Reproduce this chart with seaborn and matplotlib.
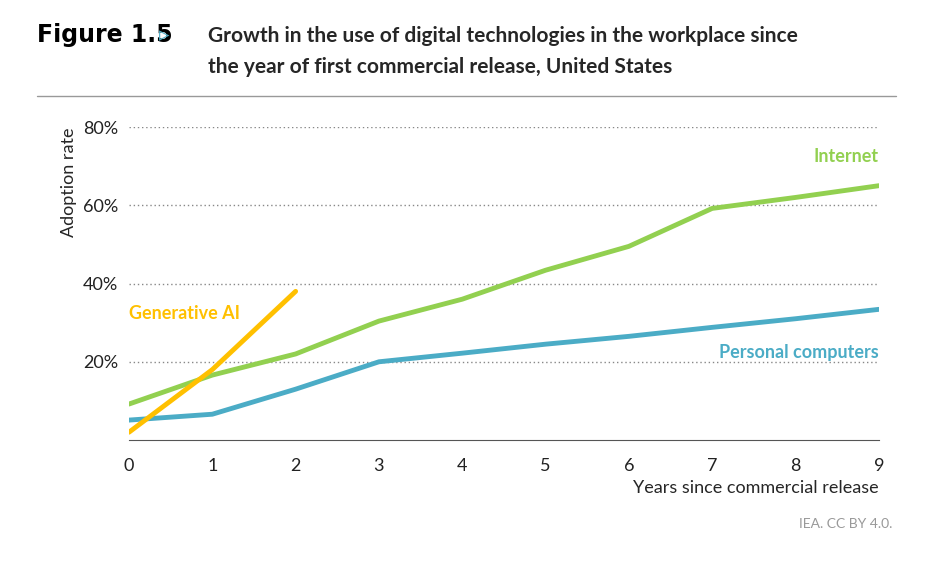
import matplotlib
matplotlib.use("Agg")
import matplotlib.pyplot as plt
import seaborn as sns
import pandas as pd

years = list(range(10))
internet = [9.2, 16.6, 22.0, 30.4, 36.0, 43.4, 49.5, 59.2, 62.0, 65.0]
personal_computers = [5.1, 6.6, 13.0, 20.0, 22.2, 24.5, 26.5, 28.8, 31.0, 33.4]
gen_ai_years = [0, 1, 2]
gen_ai = [2.0, 18.0, 38.0]

sns.set_style("white")
plt.rcParams["font.family"] = ["Lato", "DejaVu Sans"]

fig = plt.figure(figsize=(9.28, 5.62), dpi=100)
ax = fig.add_axes([0.139, 0.217, 0.808, 0.557])

df = pd.concat([
    pd.DataFrame({"year": years, "rate": internet, "series": "Internet"}),
    pd.DataFrame({"year": years, "rate": personal_computers, "series": "Personal computers"}),
    pd.DataFrame({"year": gen_ai_years, "rate": gen_ai, "series": "Generative AI"}),
])
palette = {"Internet": "#92D050", "Personal computers": "#4BACC6", "Generative AI": "#FFC000"}
sns.lineplot(data=df, x="year", y="rate", hue="series", palette=palette,
             linewidth=3.5, legend=False, ax=ax)

ax.set_xlim(0, 9)
ax.set_ylim(0, 80)
ax.set_yticks([20, 40, 60, 80])
ax.set_yticklabels(["20%", "40%", "60%", "80%"])
ax.set_xticks(years)
ax.yaxis.grid(True, linestyle=(0, (1, 2)), color="#888888", linewidth=1)
for s in ["top", "right", "left"]:
    ax.spines[s].set_visible(False)
ax.spines["bottom"].set_color("#555555")
ax.tick_params(axis="both", labelsize=13, colors="#222222", length=0, pad=8)
ax.tick_params(axis="x", length=5, direction="out", color="#555555")
ax.set_xlabel("Years since commercial release", fontsize=13, loc="right")
ax.set_ylabel("Adoption rate", fontsize=13, loc="top")

ax.text(9, 71, "Internet", color="#92D050", fontsize=13, fontweight="bold", ha="right")
ax.text(9, 21, "Personal computers", color="#4BACC6", fontsize=13, fontweight="bold", ha="right")
ax.text(0, 31, "Generative AI", color="#FFC000", fontsize=13, fontweight="bold", ha="left")

fig.text(0.04, 0.925, "Figure 1.5", fontsize=17, fontweight="heavy", color="#000000",
         family=["DejaVu Sans"])
fig.text(0.171, 0.927, "\u25B9", fontsize=15, color="#4BACC6", family=["DejaVu Sans"])
fig.text(0.224, 0.925, "Growth in the use of digital technologies in the workplace since",
         fontsize=15, fontweight="bold")
fig.text(0.224, 0.87, "the year of first commercial release, United States",
         fontsize=15, fontweight="bold")
fig.add_artist(plt.Line2D([0.04, 0.965], [0.83, 0.83], color="#999999", linewidth=1))
fig.text(0.962, 0.06, "IEA. CC BY 4.0.", fontsize=10, color="#999999", ha="right")

fig.savefig("out.png", dpi=100)
